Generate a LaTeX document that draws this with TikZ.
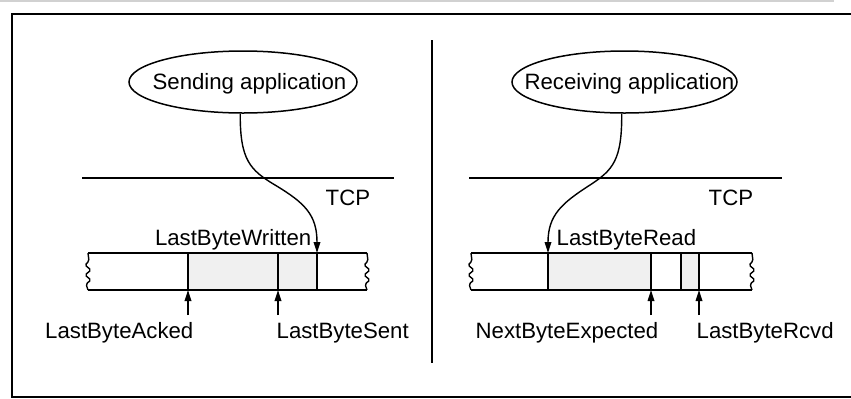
\documentclass[tikz,border=0pt]{standalone}
\usepackage{fontspec}
\setmainfont{Liberation Sans}
\usepackage{tikz}
\usetikzlibrary{arrows.meta,shapes.geometric}

\tikzset{
	app/.style={ellipse,draw,line width=0.75pt,inner sep=0pt},
	lbl/.style={inner sep=0pt,font=\fontsize{11.1}{13}\selectfont},
	ptr/.style={-{Triangle[length=5.5pt,width=3.3pt]},line width=0.7pt}
}

\begin{document}
\begin{tikzpicture}[x=0.5pt,y=-0.5pt,line width=0.7pt]
	\useasboundingbox (0,0) rectangle (851,398);
	\draw[black!18,line width=1pt] (0,1) -- (834,1);
	\draw[line width=1pt] (11.5,14) rectangle (870,396.5);
	\draw[line width=1pt] (432,40) -- (432,363);

	% sending side
	\node[app,minimum width=114pt,minimum height=31pt] (sendapp) at (243,82) {};
	\node[lbl,anchor=base] (sendtxt) at (249.5,89.5) {Sending application};
	\draw (82,178) -- (394,178);
	\node[lbl,anchor=base west] (tcpl) at (325,205) {TCP};
	\fill[black!6] (188,253) rectangle (317,290);
	\draw (88,253) -- (367,253);
	\draw (88,290) -- (367,290);
	\foreach \x in {188,278,317}
		\draw (\x,253) -- (\x,290);
	\coordinate (written) at (317,253);
	\coordinate (acked) at (188,290);
	\coordinate (sent) at (278,290);
	\draw[ptr] (sendapp.-95) .. controls (240,160) and (250,170) .. (275,185)
		.. controls (305,203) and (317,215) .. (written);
	\node[lbl,anchor=base east] (writtenlbl) at (312,245) {LastByteWritten};
	\node[lbl,anchor=base east] (ackedlbl) at (194,338) {LastByteAcked};
	\node[lbl,anchor=base west] (sentlbl) at (276,338) {LastByteSent};
	\coordinate (ackedtail) at (188,315);
	\coordinate (senttail) at (278,315);
	\draw[ptr] (ackedtail) -- (acked);
	\draw[ptr] (senttail) -- (sent);

	% receiving side
	\node[app,minimum width=112.5pt,minimum height=31pt] (recvapp) at (624.5,82) {};
	\node[lbl,anchor=base] (recvtxt) at (629.5,89.5) {Receiving application};
	\draw (469,178) -- (782,178);
	\node[lbl,anchor=base west] (tcpr) at (708,205) {TCP};
	\fill[black!6] (548,253) rectangle (651,290);
	\fill[black!6] (681,253) rectangle (699,290);
	\draw (471,253) -- (752,253);
	\draw (471,290) -- (752,290);
	\foreach \x in {548,651,681,699}
		\draw (\x,253) -- (\x,290);
	\coordinate (read) at (548,253);
	\coordinate (expected) at (651,290);
	\coordinate (rcvd) at (699,290);
	\draw[ptr] (recvapp.-95) .. controls (622,160) and (613,170) .. (590,185)
		.. controls (562,203) and (548,215) .. (read);
	\node[lbl,anchor=base west] (readlbl) at (556,245) {LastByteRead};
	\node[lbl,anchor=base east] (expectedlbl) at (659,338) {NextByteExpected};
	\node[lbl,anchor=base west] (rcvdlbl) at (696,338) {LastByteRcvd};
	\coordinate (expectedtail) at (651,315);
	\coordinate (rcvdtail) at (699,315);
	\draw[ptr] (expectedtail) -- (expected);
	\draw[ptr] (rcvdtail) -- (rcvd);

	% torn buffer ends
	\foreach \x in {88,367,471,752}
		\draw[rounded corners=0.8pt] (\x,253) -- (\x+1,261) -- (\x-3,265) -- (\x+3,270)
			-- (\x-3,275) -- (\x+3,280) -- (\x-2,284) -- (\x,290);
\end{tikzpicture}
\end{document}
